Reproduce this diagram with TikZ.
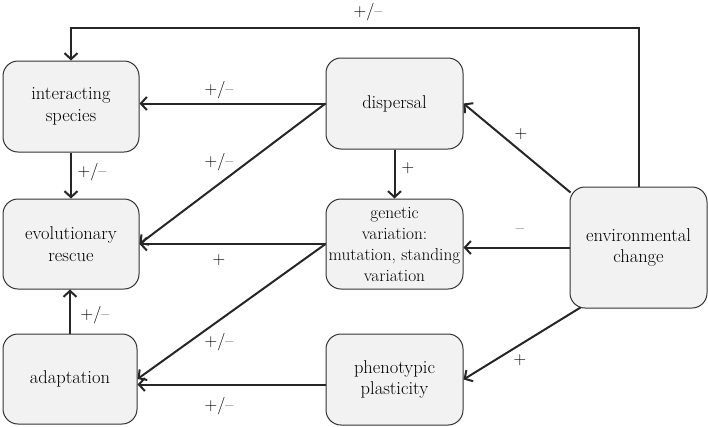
\documentclass[tikz,border=0pt]{standalone}
\usepackage{fontspec}
\usetikzlibrary{arrows.meta,calc}
\begin{document}
\begin{tikzpicture}[x=1pt,y=-1pt,
  box/.style={draw=black!80,line width=1pt,fill=black!5,rounded corners=15pt,
    align=center,inner sep=0pt,font=\rmfamily\fontsize{18.5}{21.5}\selectfont},
  conn/.style={line width=2pt,black!85,-{Straight Barb[length=6pt,width=13pt,line width=2pt]}},
  lbl/.style={font=\rmfamily\fontsize{17.5}{20}\selectfont,inner sep=0pt}]
\useasboundingbox (0,0) rectangle (708,426);
\node[box,minimum width=136pt,minimum height=91pt] (is) at (71,106.5) {interacting\\species};
\node[box,minimum width=136pt,minimum height=90pt] (er) at (71,244) {evolutionary\\rescue};
\node[box,minimum width=134pt,minimum height=90pt] (ad) at (70,379) {adaptation};
\node[box,minimum width=137pt,minimum height=91pt] (di) at (394.5,103.5) {dispersal};
\node[box,minimum width=137pt,minimum height=90pt,font=\rmfamily\fontsize{17.3}{21}\selectfont] (gv) at (394.5,244) {genetic\\variation:\\mutation, standing\\variation};
\node[box,minimum width=137pt,minimum height=91pt] (pp) at (394.5,379.5) {phenotypic\\plasticity};
\node[box,minimum width=137pt,minimum height=121pt] (ec) at (638.5,247.5) {environmental\\change};
\coordinate (top) at (0,28);
% connectors
\draw[conn] (ec.north) -- (ec.north |- top) -- (is.north |- top) -- (is.north);
\draw[conn] (di.west) -- (di.west -| is.east);
\draw[conn] (di.west) -- (er.east);
\draw[conn] (is.south) -- (er.north);
\draw[conn] (di.south) -- (gv.north);
\draw[conn] (gv.west) -- (gv.west -| er.east);
\draw[conn] (gv.west) -- (ad.east);
\draw[conn] (ad.north) -- (ad.north |- er.south);
\draw[conn] ([yshift=-5pt]pp.west) -- ([yshift=-5pt]pp.west -| ad.east);
\draw[conn] ($(ec.north west)+(1,6)$) -- (di.east);
\draw[conn] (ec.west) -- (ec.west -| gv.east);
\draw[conn] ($(ec.south west)+(11,-1)$) -- (pp.east);
% labels
\node[lbl] (l1) at (368,12) {+/–};
\node[lbl] (l2) at (219,90) {+/–};
\node[lbl] (l3) at (219,162) {+/–};
\node[lbl] (l4) at (92,172) {+/–};
\node[lbl] (l5) at (408,168) {+};
\node[lbl] (l6) at (219,260) {+};
\node[lbl] (l7) at (219,342) {+/–};
\node[lbl] (l8) at (95,315) {+/–};
\node[lbl] (l9) at (219,406) {+/–};
\node[lbl] (l10) at (521,134) {+};
\node[lbl] (l11) at (520,231) {–};
\node[lbl] (l12) at (520,360) {+};
\end{tikzpicture}
\end{document}
